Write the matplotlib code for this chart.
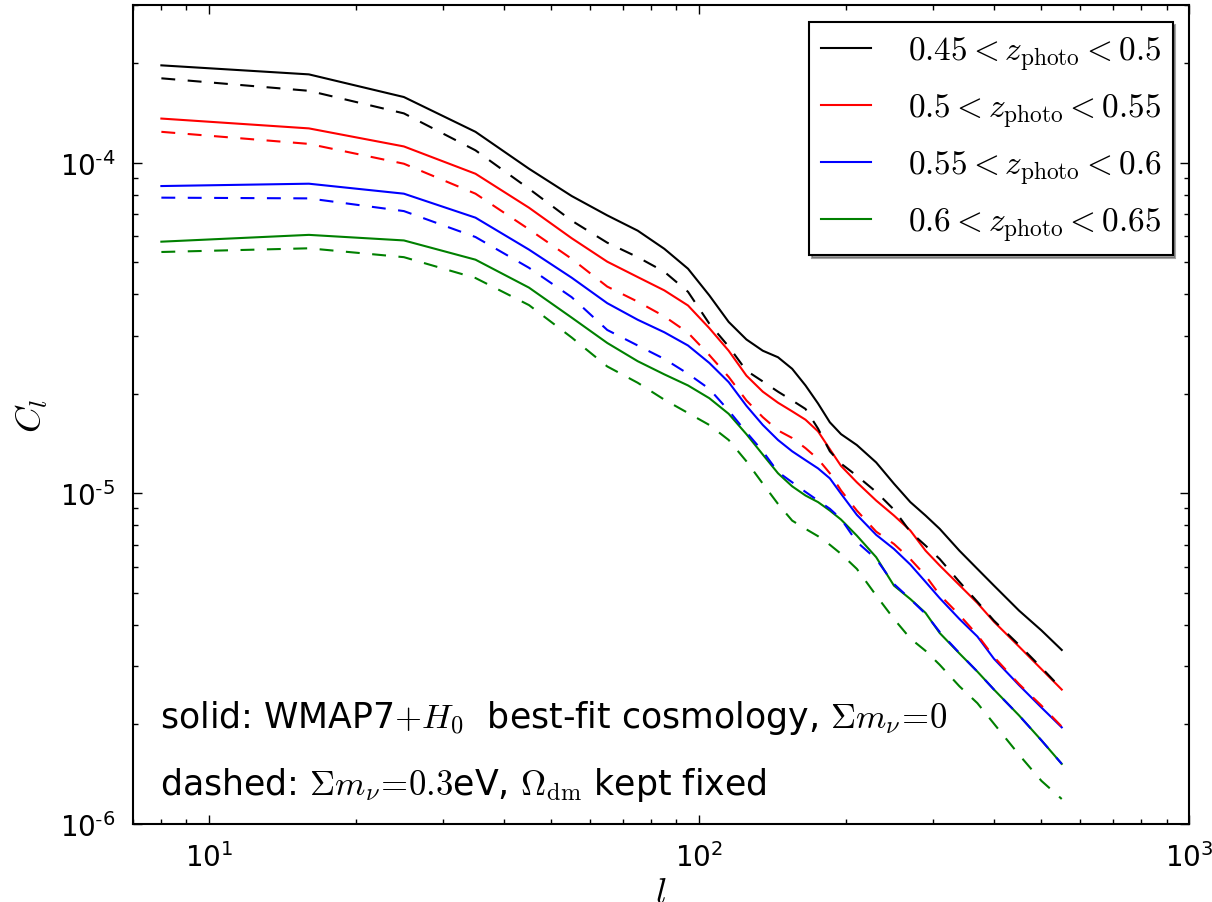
import numpy as np
import matplotlib
matplotlib.use("Agg")
import matplotlib.pyplot as plt
from matplotlib.ticker import FuncFormatter

plt.rcParams["mathtext.fontset"] = "cm"
plt.rcParams["font.family"] = ["DejaVu Sans"]
plt.rcParams["lines.scale_dashes"] = False

# Multipole bins
ell = [8, 16, 25, 35, 45, 55, 65, 75, 85, 95, 105, 115, 125, 135, 145, 155,
       165, 175, 185, 195, 210, 230, 250, 270, 290, 310, 340, 370, 400, 450, 500, 550]

# Solid: WMAP7+H0, sum m_nu = 0
cl_045_050 = [1.97e-4, 1.85e-4, 1.58e-4, 1.24e-4, 9.59e-5, 7.93e-5, 6.93e-5, 6.23e-5,
              5.49e-5, 4.78e-5, 3.97e-5, 3.30e-5, 2.92e-5, 2.70e-5, 2.58e-5, 2.38e-5,
              2.12e-5, 1.87e-5, 1.64e-5, 1.51e-5, 1.40e-5, 1.24e-5, 1.07e-5, 9.41e-6,
              8.57e-6, 7.81e-6, 6.71e-6, 5.91e-6, 5.26e-6, 4.42e-6, 3.85e-6, 3.36e-6]
cl_050_055 = [1.36e-4, 1.27e-4, 1.12e-4, 9.26e-5, 7.31e-5, 5.91e-5, 5.02e-5, 4.51e-5,
              4.11e-5, 3.70e-5, 3.16e-5, 2.70e-5, 2.27e-5, 2.03e-5, 1.88e-5, 1.77e-5,
              1.67e-5, 1.54e-5, 1.36e-5, 1.21e-5, 1.08e-5, 9.51e-6, 8.57e-6, 7.72e-6,
              6.71e-6, 6.05e-6, 5.28e-6, 4.66e-6, 4.09e-6, 3.44e-6, 2.94e-6, 2.55e-6]
cl_055_060 = [8.50e-5, 8.64e-5, 8.06e-5, 6.82e-5, 5.46e-5, 4.49e-5, 3.76e-5, 3.35e-5,
              3.07e-5, 2.80e-5, 2.48e-5, 2.17e-5, 1.84e-5, 1.61e-5, 1.45e-5, 1.34e-5,
              1.26e-5, 1.19e-5, 1.11e-5, 9.97e-6, 8.61e-6, 7.49e-6, 6.79e-6, 6.09e-6,
              5.40e-6, 4.82e-6, 4.17e-6, 3.69e-6, 3.16e-6, 2.63e-6, 2.25e-6, 1.96e-6]
cl_060_065 = [5.77e-5, 6.05e-5, 5.82e-5, 5.09e-5, 4.19e-5, 3.40e-5, 2.85e-5, 2.51e-5,
              2.29e-5, 2.12e-5, 1.94e-5, 1.74e-5, 1.51e-5, 1.31e-5, 1.15e-5, 1.05e-5,
              9.85e-6, 9.41e-6, 8.87e-6, 8.33e-6, 7.45e-6, 6.41e-6, 5.26e-6, 4.79e-6,
              4.35e-6, 3.78e-6, 3.28e-6, 2.89e-6, 2.55e-6, 2.13e-6, 1.79e-6, 1.52e-6]

# Dashed: sum m_nu = 0.3 eV, Omega_dm fixed
cl_045_050_nu = [1.80e-4, 1.65e-4, 1.41e-4, 1.09e-4, 8.34e-5, 6.68e-5, 5.73e-5, 5.18e-5,
                 4.68e-5, 4.07e-5, 3.26e-5, 2.78e-5, 2.35e-5, 2.18e-5, 2.03e-5, 1.91e-5,
                 1.80e-5, 1.57e-5, 1.34e-5, 1.23e-5, 1.13e-5, 1.01e-5, 8.93e-6, 7.65e-6,
                 6.95e-6, 6.33e-6, 5.40e-6, 4.70e-6, 4.12e-6, 3.48e-6, 2.97e-6, 2.56e-6]
cl_050_055_nu = [1.24e-4, 1.14e-4, 9.93e-5, 8.06e-5, 6.29e-5, 5.12e-5, 4.22e-5, 3.80e-5,
                 3.43e-5, 3.06e-5, 2.62e-5, 2.25e-5, 1.91e-5, 1.70e-5, 1.55e-5, 1.47e-5,
                 1.37e-5, 1.27e-5, 1.15e-5, 1.02e-5, 8.87e-6, 7.66e-6, 7.03e-6, 6.33e-6,
                 5.64e-6, 4.93e-6, 4.29e-6, 3.73e-6, 3.20e-6, 2.65e-6, 2.28e-6, 1.97e-6]
cl_055_060_nu = [7.84e-5, 7.80e-5, 7.14e-5, 5.96e-5, 4.81e-5, 3.92e-5, 3.12e-5, 2.80e-5,
                 2.55e-5, 2.30e-5, 2.07e-5, 1.78e-5, 1.53e-5, 1.34e-5, 1.16e-5, 1.08e-5,
                 1.01e-5, 9.51e-6, 8.98e-6, 8.37e-6, 7.13e-6, 6.33e-6, 5.32e-6, 4.79e-6,
                 4.32e-6, 3.81e-6, 3.29e-6, 2.89e-6, 2.55e-6, 2.13e-6, 1.79e-6, 1.52e-6]
cl_060_065_nu = [5.37e-5, 5.51e-5, 5.18e-5, 4.48e-5, 3.71e-5, 2.96e-5, 2.42e-5, 2.16e-5,
                 1.92e-5, 1.75e-5, 1.61e-5, 1.45e-5, 1.25e-5, 1.07e-5, 9.29e-6, 8.27e-6,
                 7.81e-6, 7.42e-6, 6.99e-6, 6.56e-6, 5.91e-6, 4.91e-6, 4.17e-6, 3.64e-6,
                 3.34e-6, 3.03e-6, 2.61e-6, 2.32e-6, 2.01e-6, 1.62e-6, 1.35e-6, 1.19e-6]

labels = [r"$0.45<z_{\rm photo}<0.5$", r"$0.5<z_{\rm photo}<0.55$",
          r"$0.55<z_{\rm photo}<0.6$", r"$0.6<z_{\rm photo}<0.65$"]
colors = ["k", "r", "b", "g"]
solid = [cl_045_050, cl_050_055, cl_055_060, cl_060_065]
dashed = [cl_045_050_nu, cl_050_055_nu, cl_055_060_nu, cl_060_065_nu]


def pow10_label(v, pos):
    # old-style label with a short hyphen in the exponent
    e = int(round(np.log10(v)))
    if e < 0:
        return r"$\mathdefault{10^{\text{-}%d}}$" % (-e)
    return r"$\mathdefault{10^{%d}}$" % e


fig = plt.figure(figsize=(12.12, 9.03), dpi=100)
ax = fig.add_axes([0.1097, 0.0864, 0.8713, 0.9070])

for cl, c, lab in zip(solid, colors, labels):
    ax.plot(ell, cl, color=c, lw=1.5, label=lab)
for cl, c in zip(dashed, colors):
    ax.plot(ell, cl, color=c, lw=1.5, dashes=(10, 9))

ax.set_xscale("log")
ax.set_yscale("log")
ax.set_xlim(7, 1000)
ax.set_ylim(1e-6, 3e-4)
ax.yaxis.set_major_formatter(FuncFormatter(pow10_label))

for s in ax.spines.values():
    s.set_linewidth(1.5)
ax.tick_params(which="both", direction="in", top=True, right=True, labelsize=20)
ax.tick_params(which="major", length=6.5, width=1, pad=13)
ax.tick_params(which="minor", length=3.4, width=1)

ax.set_xlabel(r"$l$", fontsize=26, labelpad=2)
ax.set_ylabel(r"$C_l$", fontsize=26, labelpad=7)

leg = ax.legend(loc="upper right", bbox_to_anchor=(0.9846, 0.9789), borderaxespad=0,
                fontsize=24, shadow=True, fancybox=False, framealpha=1,
                handlelength=1.5, handletextpad=1.1, labelspacing=0.55, borderpad=0.35)
leg.get_frame().set_edgecolor("black")
leg.get_frame().set_linewidth(1.5)

ax.text(0.0256, 0.118, r"solid: WMAP7$+H_0$  best-fit cosmology, $\Sigma m_\nu\!=\!0$",
        transform=ax.transAxes, fontsize=25, va="baseline")
ax.text(0.0256, 0.037, r"dashed: $\Sigma m_\nu\!=\!0.3$eV, $\Omega_{\rm dm}$ kept fixed",
        transform=ax.transAxes, fontsize=25, va="baseline")

fig.savefig("out.png", dpi=100)
